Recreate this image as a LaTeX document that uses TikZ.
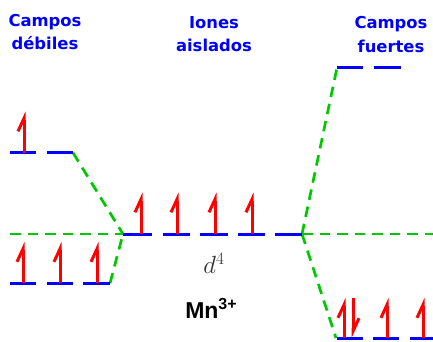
\documentclass[tikz,border=0pt]{standalone}
\usepackage{fontspec}
\setsansfont{DejaVu Sans}
\newfontfamily\arialfont{Liberation Sans}
\usetikzlibrary{arrows.meta}
\definecolor{lvlblue}{RGB}{0,0,255}
\definecolor{spinred}{RGB}{255,0,0}
\definecolor{corrgreen}{RGB}{0,200,0}
\definecolor{txtblue}{RGB}{0,0,255}
\tikzset{
  level/.style={draw=lvlblue, line width=3pt},
  spinup/.style={draw=spinred, line width=3pt, -{Straight Barb[left,length=13pt,width=12pt]}},
  corr/.style={draw=corrgreen, line width=2.7pt, dash pattern=on 10.5pt off 7pt},
  title/.style={text=txtblue, font=\sffamily\bfseries\fontsize{16.4}{23.5}\selectfont, align=center, inner sep=0pt}
}
\begin{document}
\begin{tikzpicture}[x=1pt,y=-1pt]
\useasboundingbox (0,0) rectangle (433,341);
% titles
\node[title] (tweak) at (45,32) {Campos\\débiles};
\node[title] (free) at (214,34) {Iones\\aislados};
\node[title] (strong) at (391,34.5) {Campos\\fuertes};
% coordinates
\coordinate (hL) at (73,152.7);
\coordinate (lL) at (110,283.3);
\coordinate (cL) at (123,234);
\coordinate (cR) at (302,234);
\coordinate (hR) at (337,67.7);
\coordinate (lR) at (336,338);
\coordinate (dL) at (10,234);
\coordinate (dR) at (433,234);
% correlation lines
\draw[corr] (dL) -- (cL);
\draw[corr] (hL) -- (cL);
\draw[corr] (lL) -- (cL);
\draw[corr] (cR) -- (dR);
\draw[corr] (cR) -- (hR);
\draw[corr] (cR) -- (lR);
% left levels
\draw[level] (10,152.7) -- (36,152.7);
\draw[level] (47,152.7) -- (hL);
\draw[level] (10,283.3) -- (36,283.3);
\draw[level] (47,283.3) -- (73,283.3);
\draw[level] (83,283.3) -- (lL);
% centre levels
\draw[level] (cL) -- (152,234);
\draw[level] (163,234) -- (190,234);
\draw[level] (200,234) -- (228,234);
\draw[level] (238,234) -- (265,234);
\draw[level] (275,234) -- (cR);
% right levels
\draw[level] (hR) -- (363,67.7);
\draw[level] (374,67.7) -- (401,67.7);
\draw[level] (337,338) -- (363,338);
\draw[level] (373,338) -- (399,338);
\draw[level] (410,338) -- (436,338);
% spins left
\draw[spinup] (24,152.7) -- (24,111.5);
\draw[spinup] (23,283.3) -- (23,242);
\draw[spinup] (60,283.3) -- (60,242);
\draw[spinup] (97,283.3) -- (97,242);
% spins centre
\draw[spinup] (141,234) -- (141,192.5);
\draw[spinup] (177,234) -- (177,192.5);
\draw[spinup] (215,234) -- (215,192.5);
\draw[spinup] (252,234) -- (252,192.5);
% spins right
\draw[spinup] (344,338) -- (344,298);
\draw[spinup] (353,298) -- (353,338);
\draw[spinup] (387,338) -- (387,298);
\draw[spinup] (423,338) -- (423,298);
% labels
\node[text=black!80, font=\fontsize{25}{28}\selectfont, inner sep=0pt] (dfour) at (214,263) {$d^4$};
\node[font=\arialfont\bfseries\fontsize{23}{26}\selectfont, inner sep=0pt, anchor=base] (ion) at (211,318) {Mn\raisebox{9pt}{\fontsize{16}{18}\selectfont 3+}};
\end{tikzpicture}
\end{document}
